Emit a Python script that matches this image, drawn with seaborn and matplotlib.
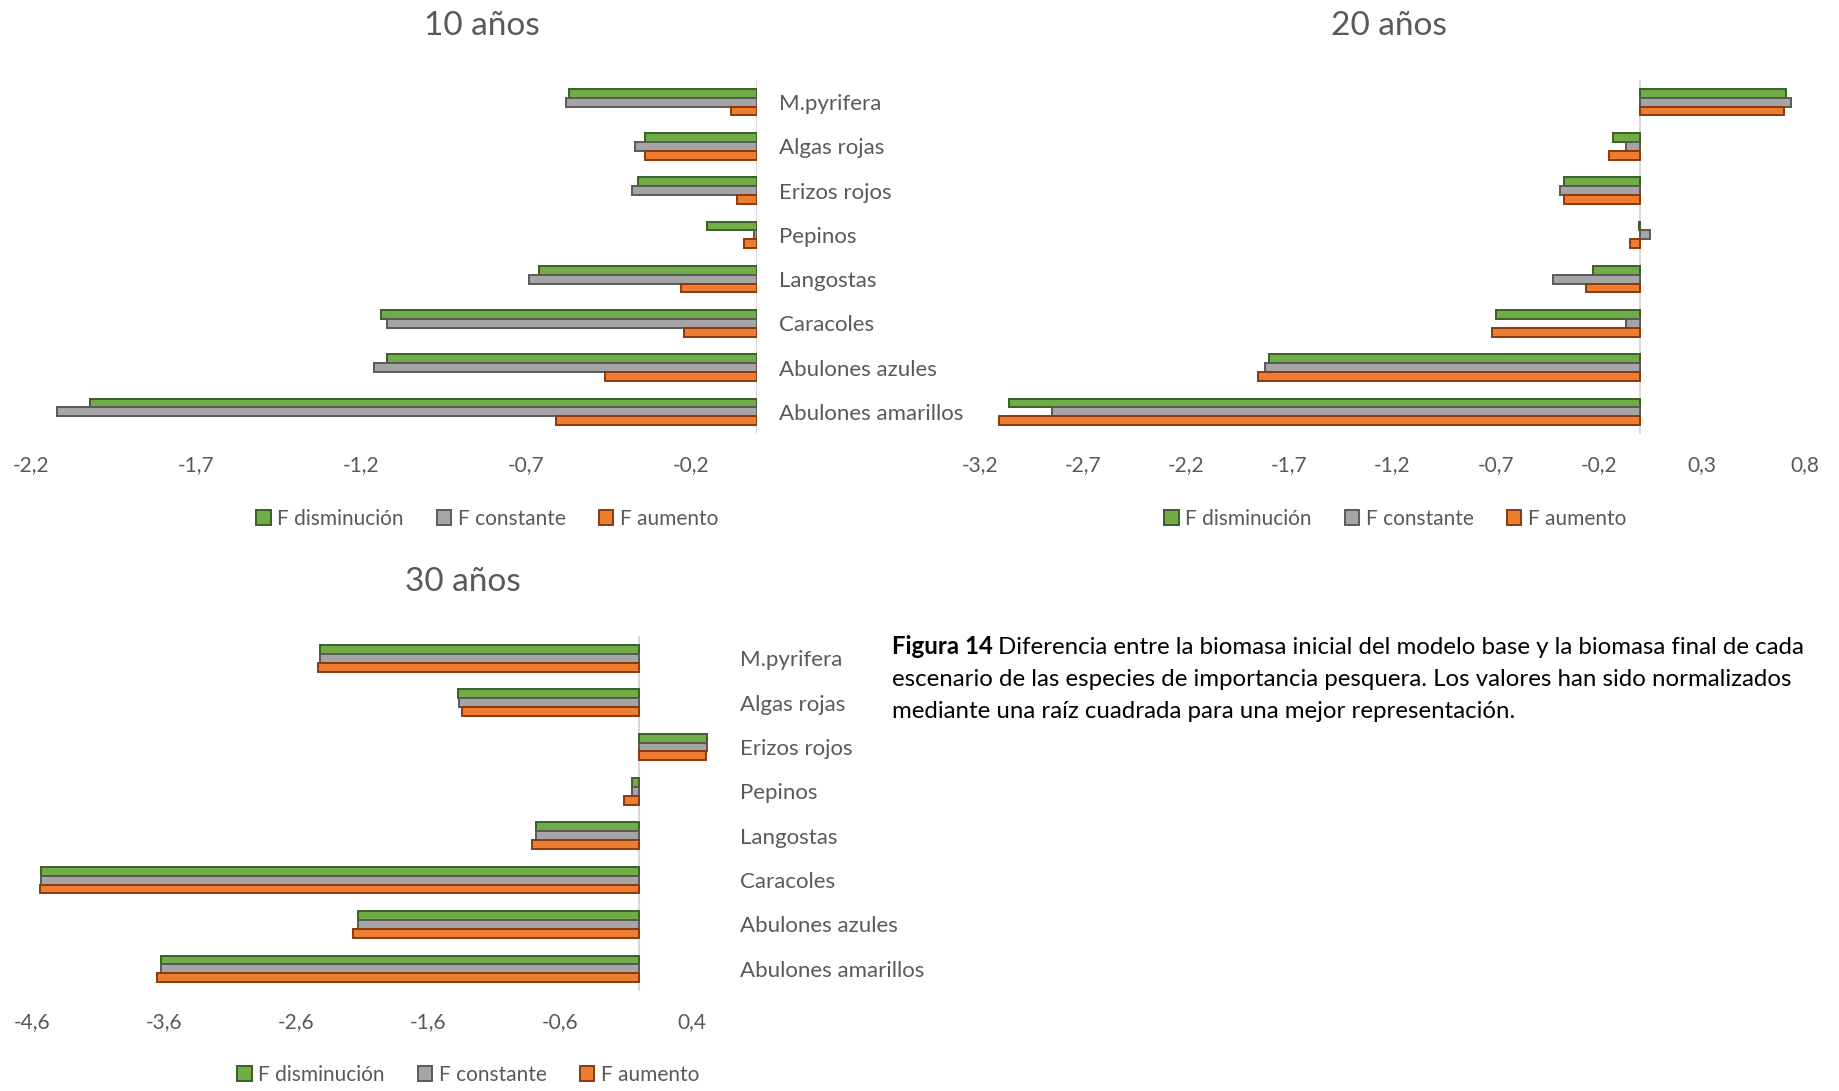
import numpy as np
import pandas as pd
import matplotlib
matplotlib.use('Agg')
import matplotlib.pyplot as plt
from matplotlib.ticker import FuncFormatter
from matplotlib.patches import Patch
import seaborn as sns

# Species (top to bottom) and scenarios
especies = ['M.pyrifera', 'Algas rojas', 'Erizos rojos', 'Pepinos', 'Langostas',
            'Caracoles', 'Abulones azules', 'Abulones amarillos']
escenarios = ['F disminución', 'F constante', 'F aumento']

# 10 años
f_dis_10 = [-0.57, -0.34, -0.36, -0.15, -0.66, -1.14, -1.12, -2.02]
f_con_10 = [-0.58, -0.37, -0.38, -0.01, -0.69, -1.12, -1.16, -2.12]
f_aum_10 = [-0.08, -0.34, -0.06, -0.04, -0.23, -0.22, -0.46, -0.61]

# 20 años
f_dis_20 = [0.71, -0.13, -0.37, -0.004, -0.23, -0.70, -1.80, -3.06]
f_con_20 = [0.73, -0.07, -0.39, 0.05, -0.42, -0.07, -1.82, -2.85]
f_aum_20 = [0.70, -0.15, -0.37, -0.05, -0.26, -0.72, -1.85, -3.11]

# 30 años
f_dis_30 = [-2.42, -1.37, 0.52, -0.05, -0.78, -4.53, -2.13, -3.62]
f_con_30 = [-2.42, -1.36, 0.52, -0.05, -0.78, -4.53, -2.13, -3.62]
f_aum_30 = [-2.43, -1.34, 0.51, -0.11, -0.81, -4.54, -2.17, -3.65]

colores = ['#70AD47', '#A5A5A5', '#ED7D31']
bordes = ['#3B5E26', '#595959', '#8A3A0E']
texto = '#595959'

sns.set_theme(style='white')
plt.rcParams['font.family'] = ['Lato', 'DejaVu Sans']

W, H = 1840, 1091
fig = plt.figure(figsize=(W / 100, H / 100), dpi=100)


def make_df(dis, con, aum):
    rows = []
    for esc, vals in zip(escenarios, [dis, con, aum]):
        for sp, v in zip(especies, vals):
            rows.append({'Especie': sp, 'Escenario': esc, 'Valor': v})
    return pd.DataFrame(rows)


def px_axes(x0, x1, y0, y1):
    return fig.add_axes([x0 / W, 1 - y1 / H, (x1 - x0) / W, (y1 - y0) / H])


comma = FuncFormatter(lambda v, p: f'{v:.1f}'.replace('.', ','))


def panel(ax, df, xlim, ticks, show_labels, legend_xy, title, title_xy):
    sns.barplot(data=df, y='Especie', x='Valor', hue='Escenario', orient='h',
                palette=colores, order=especies, hue_order=escenarios,
                width=0.6, ax=ax, legend=False, saturation=1)
    for cont, ec in zip(ax.containers, bordes):
        for bar in cont:
            bar.set_edgecolor(ec)
            bar.set_linewidth(1.4)
    ax.set_xlim(*xlim)
    ax.set_ylim(len(especies) - 0.5, -0.5)
    ax.axvline(0, color='#D9D9D9', lw=1.5, zorder=0)
    ax.set_xticks(ticks)
    ax.xaxis.set_major_formatter(comma)
    ax.tick_params(axis='x', length=0, pad=15, labelsize=15, labelcolor=texto)
    ax.set_xlabel('')
    ax.set_ylabel('')
    if show_labels:
        ax.yaxis.tick_right()
        ax.tick_params(axis='y', length=0, pad=16, labelsize=16, labelcolor=texto)
    else:
        ax.set_yticklabels([])
        ax.tick_params(axis='y', length=0)
    for s in ax.spines.values():
        s.set_visible(False)
    ax.patch.set_alpha(0)
    handles = [Patch(facecolor=c, edgecolor=e, linewidth=1.4, label=l)
               for c, e, l in zip(colores, bordes, escenarios)]
    fig.legend(handles=handles, loc='center', ncol=3, frameon=False,
               bbox_to_anchor=(legend_xy[0] / W, 1 - legend_xy[1] / H),
               fontsize=15, labelcolor=texto, handlelength=0.7, handleheight=0.7,
               handletextpad=0.3, columnspacing=1.6)
    fig.text(title_xy[0] / W, 1 - title_xy[1] / H, title, ha='center', va='center',
             fontsize=24, color=texto)


ax1 = px_axes(31, 757, 80, 434)
panel(ax1, make_df(f_dis_10, f_con_10, f_aum_10), (-2.2, 0.0),
      np.arange(-2.2, 0.0, 0.5), True, (487, 519), '10 años', (482, 26))

ax2 = px_axes(980, 1805, 80, 434)
panel(ax2, make_df(f_dis_20, f_con_20, f_aum_20), (-3.2, 0.8),
      np.arange(-3.2, 0.81, 0.5), False, (1395, 519), '20 años', (1389, 26))

ax3 = px_axes(32, 718, 636, 991)
panel(ax3, make_df(f_dis_30, f_con_30, f_aum_30), (-4.6, 0.6),
      np.arange(-4.6, 0.41, 1.0), True, (468, 1075), '30 años', (463, 582))

# Caption
fs_cap = 17.3
cap_x, cap_y = 892 / W, 1 - 647 / H
t_bold = fig.text(cap_x, cap_y, 'Figura 14', fontsize=fs_cap, fontweight='bold',
                  color='black', va='center', ha='left')
fig.canvas.draw()
bb = t_bold.get_window_extent()
fig.text(bb.x1 / W + 0.003, cap_y,
         'Diferencia entre la biomasa inicial del modelo base y la biomasa final de cada',
         fontsize=fs_cap, color='black', va='center', ha='left')
fig.text(cap_x, 1 - 679 / H,
         'escenario de las especies de importancia pesquera. Los valores han sido normalizados',
         fontsize=fs_cap, color='black', va='center', ha='left')
fig.text(cap_x, 1 - 712 / H,
         'mediante una raíz cuadrada para una mejor representación.',
         fontsize=fs_cap, color='black', va='center', ha='left')

fig.savefig('out.png', dpi=100)
